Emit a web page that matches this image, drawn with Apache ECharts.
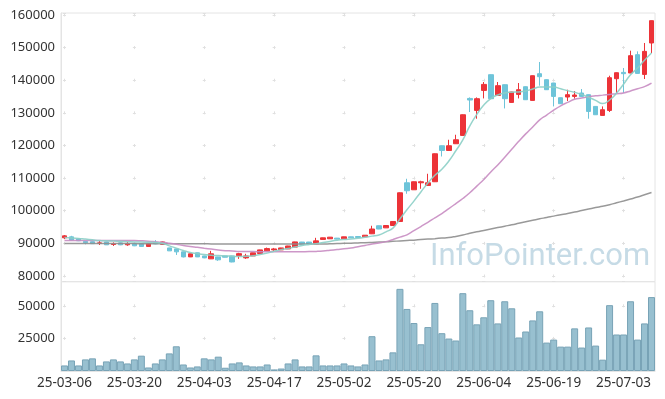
<!DOCTYPE html>
<html>
<head>
<meta charset="utf-8">
<script src="https://cdn.jsdelivr.net/npm/echarts@6/dist/echarts.min.js"></script>
<style>
html,body{margin:0;padding:0;background:#fff;}
#c{width:665px;height:399px;}
</style>
</head>
<body>
<div id="c"></div>
<script>
const dates = ["25-03-06","25-03-07","25-03-10","25-03-11","25-03-12","25-03-13","25-03-14","25-03-17","25-03-18","25-03-19",
"25-03-20","25-03-21","25-03-24","25-03-25","25-03-26","25-03-27","25-03-28","25-03-31","25-04-01","25-04-02",
"25-04-03","25-04-04","25-04-07","25-04-08","25-04-09","25-04-10","25-04-11","25-04-14","25-04-15","25-04-16",
"25-04-17","25-04-18","25-04-21","25-04-22","25-04-23","25-04-24","25-04-25","25-04-28","25-04-29","25-04-30",
"25-05-02","25-05-07","25-05-08","25-05-09","25-05-12","25-05-13","25-05-14","25-05-15","25-05-16","25-05-19",
"25-05-20","25-05-21","25-05-22","25-05-23","25-05-26","25-05-27","25-05-28","25-05-29","25-05-30","25-06-02",
"25-06-04","25-06-05","25-06-09","25-06-10","25-06-11","25-06-12","25-06-13","25-06-16","25-06-17","25-06-18",
"25-06-19","25-06-20","25-06-23","25-06-24","25-06-25","25-06-26","25-06-27","25-06-30","25-07-01","25-07-02",
"25-07-03","25-07-04","25-07-07","25-07-08","25-07-09"];

const openP = [91700,92000,91400,90600,90500,89950,90450,89650,90150,89550,
89850,89850,89050,90150,89700,88600,88300,87400,85850,87100,
86150,85250,85850,86150,86150,86250,85550,86150,86900,87700,
88000,88000,88300,88850,90400,90400,89850,91200,91400,91600,
91390,92000,92100,92000,92930,95400,94750,95470,96700,108570,
106420,108570,107740,108880,119920,118470,120530,123080,134420,130740,
136880,141690,135340,138620,133190,135650,138010,133810,142000,140160,
139140,134640,134850,135040,136080,135560,131970,129210,130740,140460,
142400,142210,147820,141780,151410];
const closeP = [92300,91000,90800,90200,89900,90150,89550,89850,89550,89850,
89250,89050,89850,89850,90450,87700,87400,85850,86800,85850,
85550,86800,84950,85750,84300,86850,86150,87100,88000,88400,
88300,88600,89200,90450,89750,89750,90770,91700,91900,91300,
92000,91700,91800,92500,94400,94400,95470,96700,105500,106120,
108880,108880,108570,117460,118470,119920,121750,129420,133930,134330,
138720,134330,138320,134330,136380,137090,134020,141380,141080,137090,
135040,132800,135560,135470,135040,130430,129420,130960,140770,142300,
142000,147520,142090,148840,158250];
const lowP = [91300,90900,90700,89700,89800,89500,89500,89200,89450,89250,
89150,89000,89000,89750,89600,87650,86450,85700,85800,85800,
85450,85200,84650,85700,84200,85250,85250,86100,86850,87650,
87700,87950,88250,88800,89700,89700,89800,91150,91350,91250,
91350,91650,91750,91950,92850,94350,94700,95400,96600,105200,
106350,106730,107700,108800,116630,118400,120450,123000,130250,128200,
134420,134250,135250,131350,133100,134420,133950,133750,138320,137000,
131970,132700,133620,134330,134950,128200,129350,129150,130250,136080,
136080,142150,142000,140370,148350];
const highP = [92550,92300,91600,90700,90600,90800,90500,90300,90250,90450,
89950,89950,89950,91000,90600,88650,88350,87450,86850,87150,
86200,87700,85900,86200,86200,87100,86800,87150,88050,88700,
88600,88650,89250,90500,90450,90450,91700,91750,91950,91650,
92050,92050,92150,92550,95400,95450,95500,96750,105600,109800,
108950,109190,111330,117550,120000,121750,123290,129500,134730,134730,
139450,141750,139450,138700,136450,139140,138100,141450,145585,140250,
139200,134700,137090,136690,137300,135650,132050,131970,141380,142400,
143745,149050,148840,151410,158300];

const ma5 = [91790,91670,91510,91300,91090,90870,90780,90720,90620,90530,
90440,90380,90320,90290,90010,89240,88540,87830,87190,86880,
86610,86390,86270,86150,86050,85960,86050,86180,86580,87010,
87560,88080,88450,88910,89340,89650,89920,90230,90600,90930,
91180,91360,91550,91850,92220,92560,93540,94670,97470,100290,
102950,105750,108510,110870,112710,115220,118380,121690,125990,129510,
132400,134390,135490,136110,136320,136410,136720,137300,137890,137920,
137920,137370,136810,136290,135650,134760,133840,132830,133930,136050,
138780,141660,143740,146140,148350];
const ma20 = [90870,90870,90840,90840,90840,90840,90840,90840,90870,90870,
90870,90780,90660,90500,90320,90040,89700,89370,89030,88780,
88510,88260,87990,87770,87650,87500,87470,87470,87440,87410,
87410,87410,87410,87410,87440,87470,87530,87650,87870,88110,
88360,88570,88970,89370,89770,90130,90530,91210,91910,92620,
93880,95160,96450,97800,99150,100650,102190,103750,105500,107550,
109550,111880,114030,116420,118840,121260,123560,125680,127830,129330,
130830,132150,133190,134150,134540,134940,135220,135430,135650,135860,
136110,136720,137400,138040,139110];
const ma60 = [89920,89920,89920,89920,89920,89920,89920,89920,89920,89920,
89920,89890,89890,89890,89890,89890,89890,89890,89890,89890,
89890,89830,89830,89830,89830,89830,89830,89830,89830,89830,
89830,89770,89770,89770,89770,89770,89770,89800,89860,89920,
90010,90070,90130,90190,90290,90410,90500,90620,90750,90870,
90990,91150,91300,91450,91610,91760,92130,92590,93080,93540,
93970,94400,94830,95260,95690,96150,96610,97070,97530,97920,
98350,98750,99150,99580,100040,100500,100960,101390,101850,102430,
103010,103600,104180,104890,105590];

const volume = [4260,8100,4260,8900,9700,4260,7350,8900,7350,5800,
8900,11760,2700,5800,8900,13500,18960,5000,2700,3500,
9700,8900,11000,2500,5800,6600,4260,3500,3500,5000,
1200,1900,5800,8900,3500,3500,12000,4260,4260,4260,
5800,4260,3500,5000,26700,8100,8900,14300,63000,47600,
36800,20500,33700,52200,29000,24900,23400,59700,46600,35800,
41200,54300,36500,53500,48100,25700,30300,38800,45800,21800,
24100,18700,18700,32700,18000,33400,19500,8700,50500,28000,
28000,53500,24100,36500,56700];

const candleData = openP.map((o, i) => [o, closeP[i], lowP[i], highP[i]]);

const FONT = 'Noto Sans';
const plain = v => String(v);
const gridLineH = {color: '#e0e0e0', width: 1, type: [3, 66.88], dashOffset: 67.89};

const chart = echarts.init(document.getElementById('c'), null, {renderer: 'canvas'});
chart.setOption({
  animation: false,
  backgroundColor: '#ffffff',
  textStyle: {fontFamily: FONT},
  graphic: [{
    type: 'text', left: 430, top: 242, z: 0,
    style: {text: 'InfoPointer.com', font: '31px Roboto', fill: '#c6dbe6'}
  }],
  grid: [
    {left: 61, right: 10, top: 13, height: 268.7, show: true, borderColor: '#e4e4e4', borderWidth: 1, backgroundColor: 'transparent'},
    {left: 61, right: 10, top: 281.7, height: 89.3, show: true, borderColor: '#e4e4e4', borderWidth: 1, backgroundColor: 'transparent'}
  ],
  xAxis: [
    {type: 'category', gridIndex: 0, data: dates, boundaryGap: true,
     axisLabel: {show: false}, axisTick: {show: false}, axisLine: {show: false},
     splitLine: {show: true, interval: 9, alignWithLabel: true,
       lineStyle: {color: '#e0e0e0', width: 1, type: [3, 29.63], dashOffset: 32.17}}},
    {type: 'category', gridIndex: 1, data: dates, boundaryGap: true,
     axisLabel: {show: true, interval: 9, color: '#333', fontSize: 13.5, fontFamily: FONT, margin: 5},
     axisTick: {show: false}, axisLine: {show: true, lineStyle: {color: '#e4e4e4'}},
     splitLine: {show: true, interval: 9, alignWithLabel: true,
       lineStyle: {color: '#e0e0e0', width: 1, type: [3, 29.59], dashOffset: 9.99}}}
  ],
  yAxis: [
    {type: 'value', gridIndex: 0, min: 78250, max: 160600, splitNumber: 8, scale: true,
     axisLabel: {color: '#333', fontSize: 13, fontFamily: FONT, margin: 6, showMinLabel: false, showMaxLabel: false, formatter: plain},
     axisTick: {show: false}, axisLine: {show: true, lineStyle: {color: '#e4e4e4'}},
     splitLine: {show: true, lineStyle: gridLineH}},
    {type: 'value', gridIndex: 1, min: 0, max: 68500, interval: 25000,
     axisLabel: {color: '#333', fontSize: 13, fontFamily: FONT, margin: 6, showMinLabel: false, showMaxLabel: false, formatter: plain},
     axisTick: {show: false}, axisLine: {show: true, lineStyle: {color: '#e4e4e4'}},
     splitLine: {show: true, lineStyle: gridLineH}}
  ],
  series: [
    {type: 'candlestick', xAxisIndex: 0, yAxisIndex: 0, data: candleData, barWidth: 5, z: 2,
     itemStyle: {color: '#ec3338', color0: '#6ec4d9', borderColor: '#ec3338', borderColor0: '#6ec4d9', borderWidth: 1}},
    {type: 'line', xAxisIndex: 0, yAxisIndex: 0, data: ma60, smooth: true, symbol: 'none', z: 3,
     lineStyle: {color: '#8e8e8e', width: 1.5, opacity: 0.9}},
    {type: 'line', xAxisIndex: 0, yAxisIndex: 0, data: ma20, smooth: true, symbol: 'none', z: 3,
     lineStyle: {color: '#c88cc2', width: 1.5, opacity: 0.9}},
    {type: 'line', xAxisIndex: 0, yAxisIndex: 0, data: ma5, smooth: true, symbol: 'none', z: 3,
     lineStyle: {color: '#8ccfc6', width: 1.5, opacity: 0.9}},
    {type: 'bar', xAxisIndex: 1, yAxisIndex: 1, data: volume, barCategoryGap: '0%',
     itemStyle: {color: '#98c0d0', borderColor: '#78a3b6', borderWidth: 1}}
  ]
});
</script>
</body>
</html>
